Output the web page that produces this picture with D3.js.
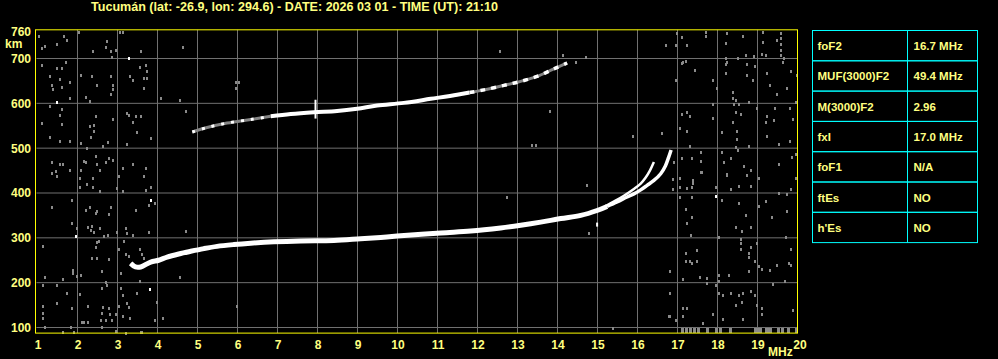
<!DOCTYPE html>
<html>
<head>
<meta charset="utf-8">
<script src="https://cdn.jsdelivr.net/npm/d3@7"></script>
<style>
  body { margin: 0; background: #000; }
  svg { display: block; }
  text { font-family: "Liberation Sans", Arial, sans-serif; font-weight: bold; fill: #ffff80; }
</style>
</head>
<body>
<div id="iono"></div>
<script>
"use strict"

// station / time header
const station = "Tucumán", lat = -26.9, lon = 294.6
const obsDate = "2026 03 01", obsTime = "21:10"

// axis ticks
const freqTicks = d3.range(1, 21)             // MHz
const heightTicks = [100, 200, 300, 400, 500, 600, 700, 760]   // km
const gridHeights = [100, 200, 300, 400, 500, 600, 700]

// scaled parameters (right table)
const paramNames = ["foF2", "MUF(3000)F2", "M(3000)F2", "fxI", "foF1", "ftEs", "h'Es"]
const paramValues = ["16.7 MHz", "49.4 MHz", "2.96", "17.0 MHz", "N/A", "NO", "NO"]

// F2 trace, one hop  [MHz, km]
const f2Trace = [[3.33,243],[3.45,235],[3.58,235],[3.83,246],[4.03,250],[4.24,257],[4.53,264],[4.83,270],
  [5.16,276],[5.49,281],[5.91,285],[6.33,288],[6.91,291],[7.58,293],[8.41,294],[9.08,298],[9.58,301],
  [9.99,304],[11.08,311],[11.83,315],[12.58,322],[13.08,328],[13.58,335],[14.08,343],[14.58,350],
  [14.99,361],[15.24,370]]
// cusp branches near foF2 / fxI
const cuspRight = [[15.24,370],[15.49,380],[15.74,391],[15.91,398],[16.08,407],[16.24,417],[16.41,428],
  [16.58,443],[16.7,461],[16.78,480],[16.84,496]]
const cuspLeft = [[15.2,371],[15.45,383],[15.66,394],[15.91,409],[16.08,421],[16.2,434],[16.31,450],[16.41,469]]

// F2 trace, second hop
const hop2Weak1 = [[4.87,536],[5.24,546],[5.74,556],[6.33,564],[6.83,571]]
const hop2Strong = [[6.83,571],[7.33,576],[7.91,580],[8.49,583],[8.99,588],[9.49,595],[10.16,601],
  [10.83,610],[11.49,619],[11.8,624]]
const hop2Weak2 = [[11.8,624],[12.16,630],[12.66,640],[13.08,649],[13.49,660],[13.91,677],[14.24,690]]

// short vertical spikes  [MHz, km from, km to]
const spikes = [[7.95,566,608],[14.99,325,334]]

// isolated strong echoes
const whiteDots = [[3.29,702],[1.49,602],[3.84,385],[1.95,305],[3.8,185],[17.95,393]]

// noise, low frequency side
const noiseLow = [[1.03,751],[1.2,727],[1.1,724],[1.49,733],[1.66,750],[1.74,742],[2.03,758],[2.74,740],
  [2.39,716],[2.7,725],[2.84,716],[2.95,720],[2.87,703],[3.05,758],[3.14,760],[3.59,716],[1.1,686],
  [1.49,678],[1.6,678],[1.7,692],[1.3,660],[1.55,655],[1.35,642],[1.39,632],[1.6,637],[1.8,647],
  [1.8,611],[2.09,664],[2.35,660],[2.49,642],[2.84,660],[2.89,642],[2.89,633],[2.84,620],[2.2,615],
  [2.31,606],[3.55,680],[3.7,686],[3.74,673],[3.3,660],[3.39,651],[3.66,656],[3.74,656],[3.66,635],
  [1.3,594],[1.6,588],[1.55,575],[1.6,553],[1.1,556],[1.3,526],[1.55,517],[1.8,517],[2.45,571],
  [2.31,549],[2.41,552],[2.41,539],[2.33,526],[2.09,512],[2.64,504],[2.75,513],[2.89,565],[3.24,579],
  [3.28,573],[3.45,571],[3.59,571],[3.39,558],[3.49,536],[3.84,522],[3.24,509],[2.24,500],[1.35,469],
  [1.55,464],[1.64,464],[1.45,449],[1.35,444],[1.8,451],[2.16,472],[2.2,469],[2.45,482],[2.49,464],
  [2.7,469],[2.79,478],[2.89,473],[2.55,451],[2.09,451],[3.14,455],[3.39,464],[3.7,455],[1.49,437],
  [2.05,434],[2.39,434],[2.24,420],[2.39,414],[2.05,413],[2.55,404],[3.04,437],[3.14,404],[2.99,412],
  [3.66,437],[3.84,413],[3.7,406],[1.85,385],[1.35,368],[2.2,361],[2.3,368],[2.45,356],[2.49,359],
  [2.84,368],[2.79,354],[1.85,333],[1.99,322],[2.26,325],[2.35,327],[2.34,318],[2.41,314],[2.55,322],
  [2.66,303],[2.75,306],[2.99,313],[3.2,322],[3.24,310],[3.39,306],[3.45,363],[3.79,312],[3.78,374],
  [3.93,378],[1.14,282],[2.49,290],[2.53,294],[2.45,279],[2.35,255],[2.49,255],[2.79,252],[3.16,292],
  [3.04,274],[3.2,264],[3.29,260],[3.55,274],[3.6,264],[3.66,255],[1.89,229],[1.89,221],[1.98,214],
  [2.09,216],[1.64,208],[1.2,212],[2.6,226],[2.7,201],[2.74,195],[3.09,221],[3.55,203],[1.14,194],
  [1.49,194],[1.74,178],[2.05,174],[2.6,189],[3.09,189],[3.14,172],[3.49,176],[1.49,154],[1.14,147],
  [1.14,132],[1.85,143],[2.26,147],[2.64,145],[2.79,143],[3.04,147],[3.24,154],[3.29,145],[2.62,132],
  [2.82,129],[2.95,129],[3.14,125],[3.31,122],[1.14,122],[2.1,112],[2.17,112],[2.25,112],[2.58,116],
  [2.7,116],[2.87,116],[2.6,102],[1.2,101],[1.84,101],[1.64,89],[1.91,89],[2.95,93],[3.59,90],[3.2,88]]

// noise, middle band
const noiseMid = [[4.64,725],[12.55,716],[3.99,156],[4.14,122],[3.93,116],[5.99,148],[3.6,89],[15.39,98],
  [16.78,125],[16.95,116],[4.7,315],[4.55,212],[13.35,508],[13.45,508],[14.74,418],[12.74,391],
  [15.89,527],[16.6,533],[14.78,310],[4.1,611],[4.55,608],[4.7,584],[5.95,647],[6.03,647],
  [5.95,634],[13.8,584],[14.14,707],[14.45,692],[14.72,703]]

// noise, high frequency side
const noiseHigh = [[16.99,757],[17.1,747],[16.7,729],[16.95,731],[17.24,731],[17.7,760],[17.7,751],
  [18.24,756],[18.64,751],[18.2,734],[19.14,760],[19.59,756],[19.49,742],[19.59,746],[19.14,736],
  [19.59,733],[19.59,720],[19.1,711],[19.2,707],[18.91,705],[18.7,707],[18.51,702],[18.2,701],
  [19.59,707],[19.66,701],[17.14,692],[17.2,695],[17.1,689],[17.45,674],[16.95,652],[17.89,652],
  [18.2,688],[18.24,692],[18.2,667],[18.74,688],[18.95,683],[18.74,664],[18.89,652],[19.24,668],
  [19.64,692],[19.84,672],[19.98,664],[17.99,634],[18.39,625],[18.39,611],[18.45,608],[19.3,640],
  [19.73,634],[19.49,620],[19.95,602],[17.89,598],[18.41,598],[18.54,598],[18.79,602],[18.99,589],
  [19.45,589],[19.8,589],[17.1,576],[17.24,580],[17.3,571],[17.89,567],[18.45,580],[18.59,576],
  [18.39,558],[19.24,571],[19.2,558],[19.41,562],[19.89,564],[16.62,533],[17.05,544],[17.24,539],
  [18.1,536],[18.49,539],[18.49,521],[19.24,527],[19.8,517],[19.54,509],[17.3,504],[17.59,491],
  [18.1,491],[18.45,502],[18.51,495],[18.79,504],[17.59,472],[18.16,469],[18.34,478],[17.1,478],
  [17.35,478],[16.91,469],[18.66,460],[18.84,451],[18.24,442],[17.59,446],[19.85,480],[19.95,486],
  [19.54,464],[16.89,432],[17.05,434],[17.39,428],[17.39,422],[17.24,412],[17.35,413],[17.05,413],
  [16.89,408],[17.6,446],[17.95,413],[18.24,441],[18.34,408],[18.54,415],[18.74,441],[18.84,415],
  [19.04,434],[19.95,434],[19.84,408],[19.54,400],[19.74,397],[17.05,391],[17.35,391],[18.1,385],
  [18.54,377],[19.04,371],[19.2,382],[17.2,364],[17.35,346],[17.24,333],[18.7,350],[19.35,346],
  [19.74,359],[18.45,324],[18.6,315],[18.84,324],[17.33,306],[18.04,301],[18.59,297],[18.59,288],
  [18.59,275],[18.99,288],[18.84,279],[18.79,266],[18.79,257],[18.95,248],[19.7,301],[19.84,275],
  [17.2,266],[17.49,272],[17.2,248],[17.3,248],[17.35,243],[17.49,248],[16.8,226],[18.79,227],
  [19.04,238],[19.1,230],[19.3,229],[19.49,239],[19.79,243],[19.84,239],[17.14,208],[17.55,212],
  [17.74,211],[17.74,200],[18.04,216],[18.04,203],[18.28,218],[17.95,194],[19.69,203],[19.39,197],
  [16.8,178],[18.04,176],[18.14,172],[18.34,176],[18.54,172],[18.64,176],[18.84,181],[18.95,172],
  [18.6,156],[18.45,151],[18.99,151],[19.1,144],[19.1,129],[17.14,144],[17.24,144],[17.14,125],
  [16.8,125],[17.89,129],[18.14,120],[18.64,120],[19.89,138],[17.64,111]]

// interference streaks along the bottom edge (MHz)
const noiseFloor = [17.1,17.2,17.3,17.4,17.5,17.75,17.95,18.05,18.3,18.95,19.0,19.05,19.2,19.25,19.3,
  19.5,19.6,19.75,19.95]

const W = 998, H = 359

const svg = d3.select("#iono").append("svg")
  .attr("width", W)
  .attr("height", H)

svg.append("rect").attr("width", W).attr("height", H).attr("fill", "#000")

// scales
const x = d3.scaleLinear().domain([1, 20]).range([37.5, 797.5])
const y = d3.scaleLinear().domain([100, 700]).range([327.5, 58.5])
const yTop = y(764), yBot = y(87.5)

// title
svg.append("text")
  .attr("x", 91).attr("y", 11)
  .attr("font-size", 12)
  .attr("textLength", 407)
  .attr("lengthAdjust", "spacingAndGlyphs")
  .text(station + " (lat: " + lat + ", lon: " + lon + ") - DATE: " + obsDate + " - TIME (UT): " + obsTime)

// grid
svg.append("g")
  .selectAll("line.vg")
  .data(freqTicks.slice(1, -1))
  .join("line")
    .attr("x1", d => x(d)).attr("x2", d => x(d))
    .attr("y1", yTop).attr("y2", yBot)
    .attr("stroke", "#707070")
svg.append("g")
  .selectAll("line.hg")
  .data(gridHeights)
  .join("line")
    .attr("x1", x(1) - 1).attr("x2", x(20))
    .attr("y1", d => y(d)).attr("y2", d => y(d))
    .attr("stroke", "#707070")

// noise
const dots = svg.append("g").attr("shape-rendering", "crispEdges")
dots.selectAll("rect.n")
  .data(noiseLow.concat(noiseMid, noiseHigh))
  .join("rect")
    .attr("x", d => Math.round(x(d[0])) - 1)
    .attr("y", d => Math.round(y(d[1])) - 1)
    .attr("width", 2).attr("height", 3)
    .attr("fill", "#8a8a8a")
dots.selectAll("rect.fl")
  .data(noiseFloor)
  .join("rect")
    .attr("x", d => Math.round(x(d)) - 1)
    .attr("y", yBot - 5)
    .attr("width", 3).attr("height", 5)
    .attr("fill", "#8a8a8a")
dots.selectAll("rect.w")
  .data(whiteDots)
  .join("rect")
    .attr("x", d => Math.round(x(d[0])) - 1)
    .attr("y", d => Math.round(y(d[1])) - 1)
    .attr("width", 2).attr("height", 3)
    .attr("fill", "#fff")

// echo traces
const line = d3.line()
  .x(d => x(d[0]))
  .y(d => y(d[1]))
  .curve(d3.curveCatmullRom)

const traces = svg.append("g").attr("fill", "none").attr("stroke-linecap", "butt")
traces.append("path").datum(f2Trace).attr("d", line).attr("stroke", "#fff").attr("stroke-width", 5)
traces.append("path").datum(f2Trace.slice(0, 4)).attr("d", line).attr("stroke", "#fff").attr("stroke-width", 3)
traces.append("path").datum(cuspRight).attr("d", line).attr("stroke", "#fff").attr("stroke-width", 3.5)
traces.append("path").datum(cuspLeft).attr("d", line).attr("stroke", "#fff").attr("stroke-width", 2.5)

traces.append("path").datum(hop2Weak1).attr("d", line).attr("stroke", "#858585").attr("stroke-width", 3)
traces.append("path").datum(hop2Weak1).attr("d", line).attr("stroke", "#fff").attr("stroke-width", 3)
  .attr("stroke-dasharray", "3,7")
traces.append("path").datum(hop2Strong).attr("d", line).attr("stroke", "#fff").attr("stroke-width", 4)
traces.append("path").datum(hop2Weak2).attr("d", line).attr("stroke", "#858585").attr("stroke-width", 3)
traces.append("path").datum(hop2Weak2).attr("d", line).attr("stroke", "#fff").attr("stroke-width", 3.5)
  .attr("stroke-dasharray", "5,6")

traces.selectAll("line.sp")
  .data(spikes)
  .join("line")
    .attr("x1", d => x(d[0])).attr("x2", d => x(d[0]))
    .attr("y1", d => y(d[1])).attr("y2", d => y(d[2]))
    .attr("stroke", "#fff").attr("stroke-width", 2)

// frame
svg.append("rect")
  .attr("x", x(1) - 2).attr("y", yTop)
  .attr("width", x(20) - x(1) + 2).attr("height", yBot - yTop)
  .attr("fill", "none")
  .attr("stroke", "#ffff00")

// axes
const xAxis = svg.append("g")
  .attr("transform", "translate(0," + yBot + ")")
  .call(d3.axisBottom(x).tickValues(freqTicks).tickFormat(d3.format("d")).tickSize(0).tickPadding(7))
xAxis.select(".domain").remove()
xAxis.selectAll("text").attr("font-size", 12).attr("fill", "#ffff80")
  .attr("dx", d => d === 20 ? 2 : 0)
  .style("font-family", "'Liberation Sans', Arial, sans-serif")

const yAxis = svg.append("g")
  .attr("transform", "translate(35,0)")
  .call(d3.axisLeft(y).tickValues(heightTicks).tickSize(0).tickPadding(4))
yAxis.select(".domain").remove()
yAxis.selectAll("text").attr("font-size", 12).attr("fill", "#ffff80")
  .style("font-family", "'Liberation Sans', Arial, sans-serif")

svg.append("text").attr("x", 5).attr("y", 48).attr("font-size", 12).text("km")
svg.append("text").attr("x", 768).attr("y", 356).attr("font-size", 12).text("MHz")

// parameter table
const tblX = 812.5, tblX2 = 907.5, tblX3 = 977.5, tblY = 30.5, rowH = 30.3
const tbl = svg.append("g")
tbl.selectAll("rect")
  .data(paramNames)
  .join("rect")
    .attr("x", tblX).attr("y", (d, i) => tblY + i * rowH)
    .attr("width", tblX3 - tblX).attr("height", rowH)
    .attr("fill", "none").attr("stroke", "#00ffff")
tbl.append("line")
  .attr("x1", tblX2).attr("x2", tblX2)
  .attr("y1", tblY).attr("y2", tblY + paramNames.length * rowH)
  .attr("stroke", "#00ffff")
tbl.selectAll("text.nm")
  .data(paramNames)
  .join("text")
    .attr("x", tblX + 5).attr("y", (d, i) => tblY + i * rowH + rowH / 2 + 4.5)
    .attr("font-size", 11.5)
    .text(d => d)
tbl.selectAll("text.vl")
  .data(paramValues)
  .join("text")
    .attr("x", tblX2 + 6).attr("y", (d, i) => tblY + i * rowH + rowH / 2 + 4.5)
    .attr("font-size", 11.5)
    .text(d => d)
</script>
</body>
</html>
